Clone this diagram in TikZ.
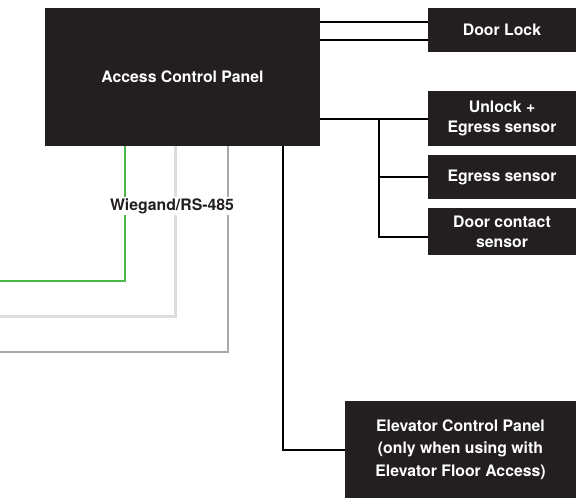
\documentclass[tikz,border=0pt]{standalone}
\usepackage{fontspec}
\setmainfont{TeX Gyre Heros}
\usepackage{xcolor}
\usepackage{tikz}

\definecolor{boxblack}{HTML}{231F20}
\definecolor{busgreen}{HTML}{4CB748}
\definecolor{buslight}{HTML}{DCDDDE}
\definecolor{busgray}{HTML}{A7A9AC}

\tikzset{
  unit/.style={fill=boxblack, text=white, align=center, inner sep=0pt,
    font=\bfseries\fontsize{15.8}{20}\selectfont},
  wire/.style={line width=2pt, black},
}

\begin{document}
\begin{tikzpicture}[x=1pt,y=-1pt]
\useasboundingbox (0,0) rectangle (576,498);
% boxes
\node[unit, minimum width=275pt, minimum height=138pt] (Panel) at (182.5,77) {Access Control Panel};
\node[unit, minimum width=148pt, minimum height=44pt] (Lock) at (502,30) {Door Lock};
\node[unit, minimum width=148pt, minimum height=55pt] (Unlock) at (502,118.5) {Unlock +\\Egress sensor};
\node[unit, minimum width=148pt, minimum height=44pt] (Egress) at (502,177) {Egress sensor};
\node[unit, minimum width=148pt, minimum height=47pt] (Contact) at (502,231.5) {Door contact\\sensor};
\node[unit, minimum width=231pt, minimum height=97pt, font=\bfseries\fontsize{15.8}{22.5}\selectfont] (Elevator) at (460.5,449.5) {Elevator Control Panel\\(only when using with\\Elevator Floor Access)};
% door side
\draw[wire] (Panel.east |- 0,22) -- (Lock.west |- 0,22);
\draw[wire] (Panel.east |- 0,40) -- (Lock.west |- 0,40);
\draw[wire] (Panel.east |- Unlock) -- (Unlock.west);
\coordinate (Tap) at (379,118);
\draw[wire] (Tap |- Egress) -- (Egress.west);
\draw[wire] (Tap) |- (Contact.west |- 0,237);
\draw[wire] (Panel.south -| 283,0) |- (Elevator.west);
% reader bus
\coordinate (ReaderA) at (0,281);
\coordinate (ReaderB) at (0,316);
\coordinate (ReaderC) at (0,352);
\draw[busgreen, line width=1.2pt] (Panel.south -| 125,0) |- (ReaderA);
\draw[buslight, line width=3pt] (Panel.south -| 175,0) |- (ReaderB);
\draw[busgray, line width=2pt] (Panel.south -| 228,0) |- (ReaderC);
\node[fill=white, text=boxblack, inner sep=1.5pt, font=\bfseries\fontsize{15.8}{20}\selectfont] (Bus) at (172,206) {Wiegand/RS-485};
\end{tikzpicture}
\end{document}
